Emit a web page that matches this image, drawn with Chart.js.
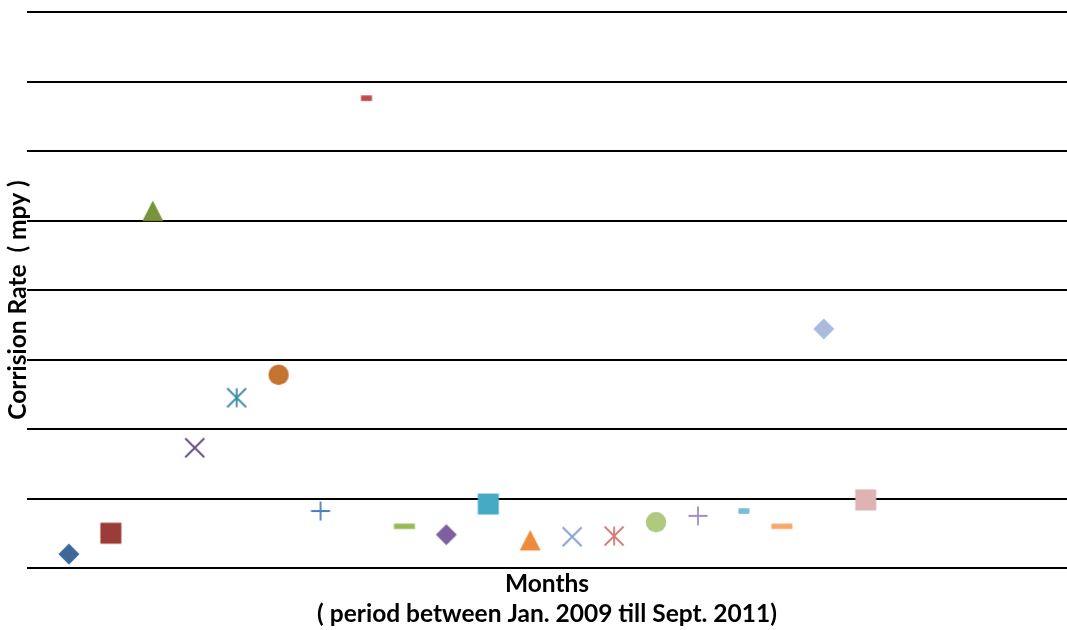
<!DOCTYPE html>
<html>
<head>
<meta charset="utf-8">
<title>Corrosion Rate by Month</title>
<script src="https://cdn.jsdelivr.net/npm/chart.js@4/dist/chart.umd.min.js"></script>
<style>
  html, body { margin: 0; padding: 0; background: #ffffff; overflow: hidden; }
  #wrap { width: 1067px; height: 630px; }
</style>
</head>
<body>
<div id="wrap"><canvas id="chart" width="1067" height="630"></canvas></div>
<script>
// Monthly readings, Jan. 2009 – Sept. 2011 (one series per reading)
const monthIndex = [1, 2, 3, 4, 5, 6, 7, 8, 9, 10, 11, 12, 13, 14, 15, 16, 17, 18, 19, 20];
const corrosionRate = [0.20, 0.50, 5.14, 1.73, 2.45, 2.78, 0.82, 6.76, 0.60, 0.48,
                       0.92, 0.40, 0.45, 0.46, 0.66, 0.75, 0.82, 0.60, 3.44, 0.98];
const seriesNames = monthIndex.map(m => 'Reading ' + m);
const yTicks = [0, 1, 2, 3, 4, 5, 6, 7, 8];
const xRange = [0, 24.8];

// Marker shape and colour per series (Office-style cycle)
const markerShapes = ['diamond', 'square', 'triangle', 'x', 'star', 'circle', 'plus', 'shortDash', 'longDash',
                      'diamond', 'square', 'triangle', 'x', 'star', 'circle', 'plus', 'shortDash', 'longDash',
                      'diamond', 'square'];
const markerColors = ['#3B6799', '#9B3C39', '#77933C', '#5F4A7E', '#3A8CA2', '#C4742F', '#4A7EBB',
                      '#BE4B48', '#98B954', '#7D60A0', '#46AAC5', '#EE8A3C', '#809FD0', '#D27A77',
                      '#AFC97E', '#A18DC1', '#78BDD6', '#F9A66C', '#A9BCDE', '#DDB3B3'];

const titleFont = 'Lato, "Open Sans", sans-serif';

function makeMarker(shape, color) {
  const c = document.createElement('canvas');
  c.width = 32; c.height = 32;
  const g = c.getContext('2d');
  const cx = 16, cy = 16;
  g.fillStyle = color;
  g.strokeStyle = color;
  g.lineWidth = 1.8;
  g.lineCap = 'butt';
  g.beginPath();
  switch (shape) {
    case 'diamond':
      g.moveTo(cx, cy - 10.5); g.lineTo(cx + 10.5, cy); g.lineTo(cx, cy + 10.5); g.lineTo(cx - 10.5, cy);
      g.closePath(); g.fill(); break;
    case 'square':
      g.rect(cx - 10.5, cy - 10.5, 21, 21); g.fill(); break;
    case 'triangle':
      g.moveTo(cx, cy - 10.3); g.lineTo(cx + 10.5, cy + 10.3); g.lineTo(cx - 10.5, cy + 10.3);
      g.closePath(); g.fill(); break;
    case 'x':
      g.moveTo(cx - 9.5, cy - 9.5); g.lineTo(cx + 9.5, cy + 9.5);
      g.moveTo(cx + 9.5, cy - 9.5); g.lineTo(cx - 9.5, cy + 9.5);
      g.stroke(); break;
    case 'star':
      g.moveTo(cx, cy - 9.5); g.lineTo(cx, cy + 9.5);
      g.moveTo(cx - 9.5, cy - 9.5); g.lineTo(cx + 9.5, cy + 9.5);
      g.moveTo(cx + 9.5, cy - 9.5); g.lineTo(cx - 9.5, cy + 9.5);
      g.stroke(); break;
    case 'circle':
      g.arc(cx, cy, 10.2, 0, Math.PI * 2); g.fill(); break;
    case 'plus':
      g.moveTo(cx, cy - 9.5); g.lineTo(cx, cy + 9.5);
      g.moveTo(cx - 9.5, cy); g.lineTo(cx + 9.5, cy);
      g.stroke(); break;
    case 'shortDash':
      g.rect(cx + 4 - 5.5, cy - 2.8, 11, 5.6); g.fill(); break;
    case 'longDash':
      g.rect(cx - 10.5, cy - 2.7, 21, 5.4); g.fill(); break;
  }
  return c;
}

const datasets = monthIndex.map((m, i) => ({
  label: seriesNames[i],
  data: [{ x: m, y: corrosionRate[i] }],
  pointStyle: makeMarker(markerShapes[i], markerColors[i]),
  backgroundColor: markerColors[i],
  borderColor: markerColors[i],
  showLine: false
}));

// Vertical axis title beside the plot
const yAxisTitle = {
  id: 'yAxisTitle',
  afterDraw(chart) {
    const { ctx, chartArea } = chart;
    ctx.save();
    ctx.translate(18, (chartArea.top + chartArea.bottom) / 2 + 10);
    ctx.rotate(-Math.PI / 2);
    ctx.font = 'bold 24.5px ' + titleFont;
    ctx.fillStyle = '#000000';
    ctx.textAlign = 'center';
    ctx.textBaseline = 'middle';
    ctx.fillText('Corrision Rate  ( mpy )', 0, 0);
    ctx.restore();
  }
};

new Chart(document.getElementById('chart'), {
  type: 'scatter',
  data: { datasets },
  plugins: [yAxisTitle],
  options: {
    responsive: false,
    animation: false,
    layout: { autoPadding: false, padding: { top: 12, right: 0, bottom: 0, left: 0 } },
    plugins: { legend: { display: false }, tooltip: { enabled: false } },
    scales: {
      x: {
        type: 'linear',
        min: xRange[0],
        max: xRange[1],
        grid: { display: false, drawTicks: false },
        border: { display: false },
        ticks: { display: false },
        title: {
          display: true,
          text: ['Months', '( period between Jan. 2009 till Sept. 2011)'],
          color: '#000000',
          font: { family: titleFont, size: 24.5, weight: 'bold', lineHeight: 1.22 },
          padding: { top: 0, bottom: 1 }
        },
        afterFit(scale) { scale.height = 62; }
      },
      y: {
        type: 'linear',
        min: yTicks[0],
        max: yTicks[yTicks.length - 1],
        afterBuildTicks(scale) { scale.ticks = yTicks.map(v => ({ value: v })); },
        grid: { color: '#000000', lineWidth: 2, drawTicks: false },
        border: { display: false },
        ticks: { display: false },
        afterFit(scale) { scale.width = 27; }
      }
    }
  }
});
</script>
</body>
</html>
